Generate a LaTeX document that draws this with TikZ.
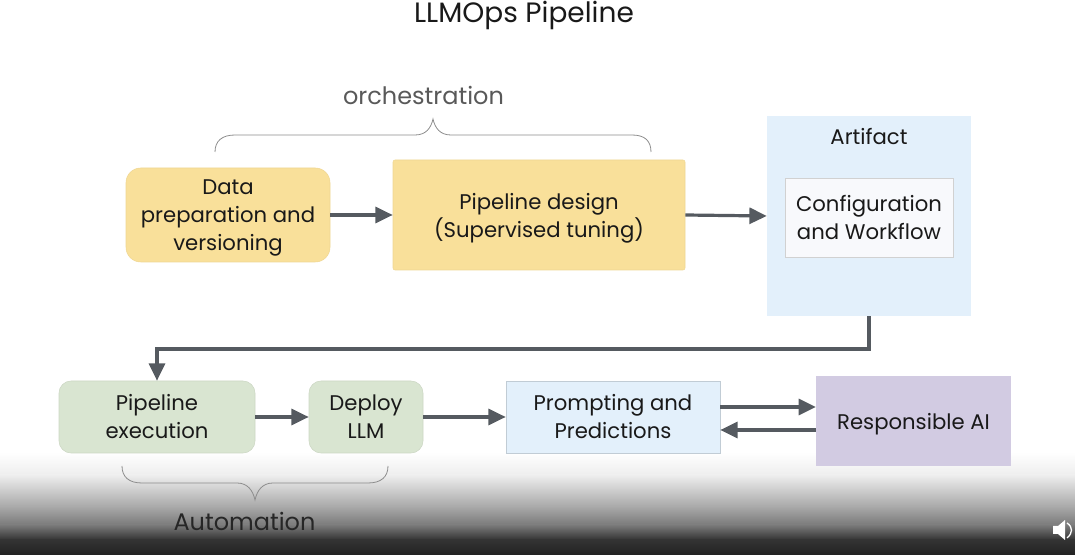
\documentclass[tikz,border=0pt]{standalone}
\usepackage{fontspec}
\setmainfont{Poppins}
\usepackage{xcolor}
\usetikzlibrary{arrows.meta}

\definecolor{boxyellow}{HTML}{F9E09A}
\definecolor{boxgreen}{HTML}{D9E5D1}
\definecolor{boxblue}{HTML}{E3F0FB}
\definecolor{boxpurple}{HTML}{D2CBE2}
\definecolor{boxpale}{HTML}{F8F9FC}
\definecolor{arrowgray}{HTML}{555A60}
\definecolor{fadesoft}{HTML}{EEEEEE}
\definecolor{fademid}{HTML}{A8A8A8}
\definecolor{fadedeep}{HTML}{7A7A7A}
\definecolor{fadelow}{HTML}{333333}
\definecolor{fadeend}{HTML}{222222}

\tikzset{
  flowbox/.style={align=center, inner sep=0pt, font=\fontsize{15.9}{21}\selectfont, text=black!90},
  flatbase/.style={text depth=0pt},
  flowlink/.style={arrowgray, line width=2.4pt, -{Triangle[length=13pt,width=12pt]}},
  bracket/.style={black!45, line width=0.6pt}
}

\begin{document}
\begin{tikzpicture}[x=0.75pt,y=-0.75pt]
\useasboundingbox (0,0) rectangle (1075,555);

% fade at the bottom
\shade[top color=white, bottom color=fadesoft] (0,452) rectangle (1075,475);
\shade[top color=fadesoft, bottom color=fademid] (0,475) rectangle (1075,507);
\shade[top color=fademid, bottom color=fadedeep] (0,507) rectangle (1075,525);
\shade[top color=fadedeep, bottom color=fadelow] (0,525) rectangle (1075,540);
\shade[top color=fadelow, bottom color=fadeend] (0,540) rectangle (1075,555);

% top row
\node[flowbox, flatbase, fill=boxyellow, draw=boxyellow!96!black, rounded corners=11pt, minimum width=153pt, minimum height=70.5pt] (data) at (228,215) {Data\\preparation and\\versioning};
\node[flowbox, flatbase, fill=boxyellow, draw=boxyellow!96!black, rounded corners=1.5pt, minimum width=219pt, minimum height=82.5pt] (design) at (539,215) {Pipeline design\\(Supervised tuning)};
\node[flowbox, fill=boxblue, minimum width=153pt, minimum height=150pt] (artifact) at (869,216) {};
\node[flowbox] (artifacttext) at (869,137) {Artifact};
\node[flowbox, fill=boxpale, draw=black!18, minimum width=126pt, minimum height=59pt] (config) at (869,217.5) {Configuration\\and Workflow};

% bottom row
\node[flowbox, fill=boxgreen, draw=boxgreen!94!black, rounded corners=9pt, minimum width=147pt, minimum height=54pt] (execution) at (157,417) {Pipeline\\execution};
\node[flowbox, fill=boxgreen, draw=boxgreen!94!black, rounded corners=9pt, minimum width=85.5pt, minimum height=54pt] (deploy) at (366,417) {Deploy\\LLM};
\node[flowbox, fill=boxblue, draw=boxblue!85!black, minimum width=160.5pt, minimum height=54pt] (prompting) at (613,417) {Prompting and\\Predictions};
\node[flowbox, flatbase, fill=boxpurple, minimum width=146pt, minimum height=67.5pt] (responsible) at (913.5,421) {Responsible AI};

% arrows
\draw[flowlink] (data.east) -- (design.west);
\draw[flowlink] (design.east) -- (artifact.west);
\coordinate (turn) at (157,349);
\draw[flowlink] (artifact.south) |- (turn) -- (execution.north);
\draw[flowlink] (execution.east) -- (deploy.west);
\draw[flowlink] (deploy.east) -- (prompting.west);
\draw[flowlink] ([yshift=7.5pt]prompting.east) -- ([yshift=10.5pt]responsible.west);
\draw[flowlink] ([yshift=-6.75pt]responsible.west) -- ([yshift=-9.75pt]prompting.east);

% braces
\draw[bracket] (215,152) .. controls (215,141) and (222,135) .. (235,135) -- (415,135) .. controls (426,135) and (431,128) .. (433,119) .. controls (435,128) and (440,135) .. (451,135) -- (632,135) .. controls (645,135) and (651,141) .. (651,152);
\draw[bracket] (122,466) .. controls (122,477) and (129,483) .. (142,483) -- (237,483) .. controls (248,483) and (253,491) .. (255,500) .. controls (257,491) and (262,483) .. (273,483) -- (368,483) .. controls (381,483) and (388,477) .. (388,466);

% nodes
\node[font=\fontsize{18}{21}\selectfont, text=black!65] (orchestration) at (423.5,95) {orchestration};
\node[font=\fontsize{18}{21}\selectfont, text=black!85] (automation) at (244.5,521.5) {Automation};
\node[font=\fontsize{21}{23}\selectfont, text=black!90] (pagetitle) at (524,15) {LLMOps Pipeline};

% speaker icon
\fill[white] (1053,526) -- (1058,526) -- (1065,520) -- (1065,540) -- (1058,534) -- (1053,534) -- cycle;
\draw[white, line width=1pt] (1067,523) .. controls (1073,527) and (1073,533) .. (1067,538);

\end{tikzpicture}
\end{document}
